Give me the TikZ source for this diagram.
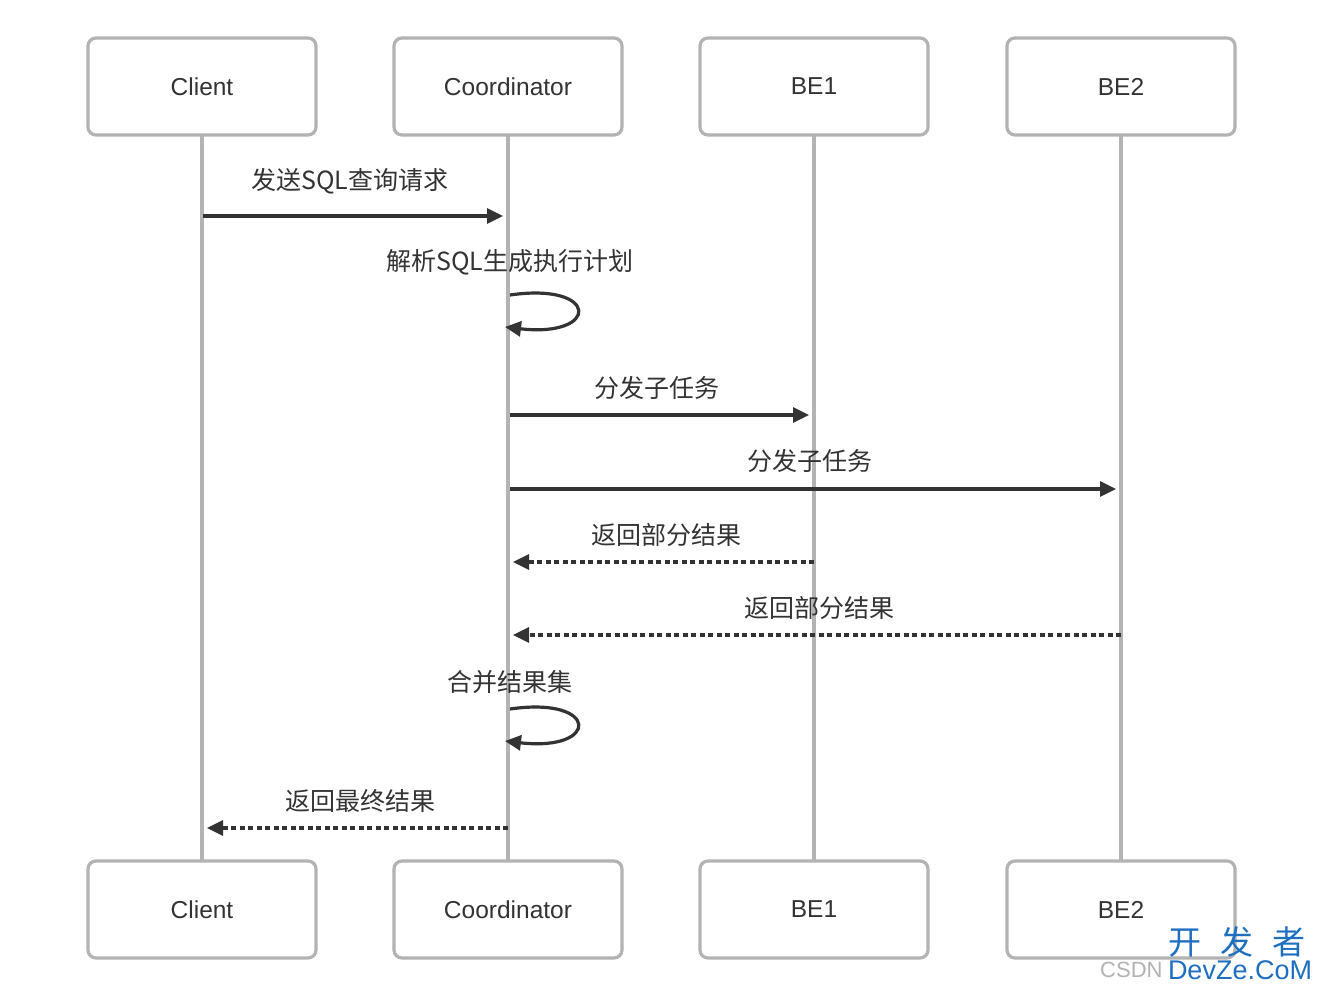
\documentclass[tikz,border=0pt]{standalone}
\usepackage{fontspec}
\setmainfont{Liberation Sans}
\newfontfamily\cjk{Noto Sans CJK SC}
\usetikzlibrary{arrows.meta}
\definecolor{boxgray}{HTML}{B3B3B3}
\definecolor{ink}{HTML}{333333}
\definecolor{wmblue}{HTML}{1F6FC0}
\tikzset{
  actor/.style={draw=boxgray, line width=3.2pt, rounded corners=8pt, fill=white,
    minimum width=228pt, minimum height=97pt, inner sep=0pt, font=\fontsize{24.5}{28}\selectfont, text=ink},
  life/.style={draw=boxgray, line width=3.2pt},
  msg/.style={draw=ink, line width=3.2pt, -{Triangle[length=16pt,width=15pt]}},
  ret/.style={msg, dash pattern=on 5pt off 3.5pt},
  lbl/.style={font=\cjk\fontsize{25}{28}\selectfont, text=ink, inner sep=0pt}
}
\begin{document}
\begin{tikzpicture}[x=1pt,y=-1pt]
\useasboundingbox (0,0) rectangle (1322,992);
\fill[white] (0,0) rectangle (1322,992);
% lifelines
\coordinate (cT) at (202,136); \coordinate (cB) at (202,860);
\coordinate (oT) at (508,136); \coordinate (oB) at (508,860);
\coordinate (aT) at (814,136); \coordinate (aB) at (814,860);
\coordinate (bT) at (1121,136); \coordinate (bB) at (1121,860);
\draw[life] (cT) -- (cB);
\draw[life] (oT) -- (oB);
\draw[life] (aT) -- (aB);
\draw[life] (bT) -- (bB);
% actor boxes
\node[actor] (c1) at (202,86.5) {Client};
\node[actor] (o1) at (508,86.5) {Coordinator};
\node[actor] (a1) at (814,86.5) {BE1};
\node[actor] (b1) at (1121,86.5) {BE2};
\node[actor] (c2) at (202,909.5) {Client};
\node[actor] (o2) at (508,909.5) {Coordinator};
\node[actor] (a2) at (814,909.5) {BE1};
\node[actor] (b2) at (1121,909.5) {BE2};
% message 1
\node[lbl] (l1) at (350,181) {发送SQL查询请求};
\coordinate (m1s) at (203,216); \coordinate (m1e) at (503,216);
\draw[msg] (m1s) -- (m1e);
% self loop 1
\node[lbl] (l2) at (510,262) {解析SQL生成执行计划};
\coordinate (s1a) at (510,295); \coordinate (s1b) at (505,327);
\draw[msg] (s1a) .. controls (600,282) and (600,338) .. (s1b);
% message 3
\node[lbl] (l3) at (657,388) {分发子任务};
\coordinate (m3s) at (510,415); \coordinate (m3e) at (809,415);
\draw[msg] (m3s) -- (m3e);
% message 4
\node[lbl] (l4) at (810,461) {分发子任务};
\coordinate (m4s) at (510,489); \coordinate (m4e) at (1116,489);
\draw[msg] (m4s) -- (m4e);
% message 5
\node[lbl] (l5) at (666,535) {返回部分结果};
\coordinate (m5s) at (814,562); \coordinate (m5e) at (513,562);
\draw[ret] (m5s) -- (m5e);
% message 6
\node[lbl] (l6) at (819,608) {返回部分结果};
\coordinate (m6s) at (1121,635); \coordinate (m6e) at (513,635);
\draw[ret] (m6s) -- (m6e);
% self loop 2
\node[lbl] (l7) at (510,682) {合并结果集};
\coordinate (s2a) at (510,709); \coordinate (s2b) at (505,741);
\draw[msg] (s2a) .. controls (600,696) and (600,752) .. (s2b);
% message 8
\node[lbl] (l8) at (360,801) {返回最终结果};
\coordinate (m8s) at (508,828); \coordinate (m8e) at (207,828);
\draw[ret] (m8s) -- (m8e);
% watermark
\node[font=\cjk\fontsize{33}{36}\selectfont, text=wmblue, inner sep=0pt] (wm1) at (1237,942) {开\hspace{19pt}发\hspace{19pt}者};
\node[font=\fontsize{22}{26}\selectfont, text=gray!60, inner sep=0pt, anchor=west] (wm3) at (1100,970) {CSDN};
\node[font=\fontsize{27}{30}\selectfont, text=wmblue, inner sep=0pt] (wm2) at (1240,970) {DevZe.CoM};
\end{tikzpicture}
\end{document}
